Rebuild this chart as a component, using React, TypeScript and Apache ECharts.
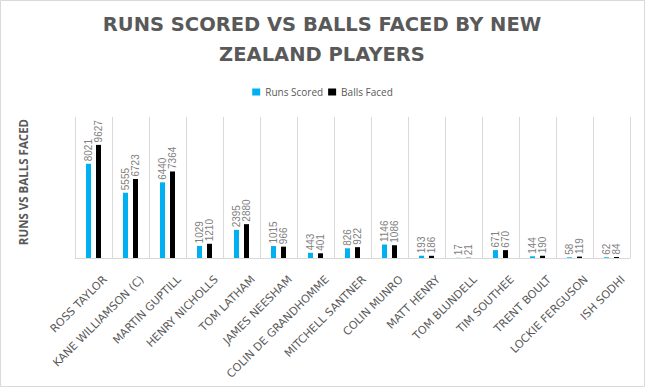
import React, { useEffect, useRef } from "react";
import * as echarts from "echarts";

const players = [
  "ROSS TAYLOR",
  "KANE WILLIAMSON (C)",
  "MARTIN GUPTILL",
  "HENRY NICHOLLS",
  "TOM LATHAM",
  "JAMES NEESHAM",
  "COLIN DE GRANDHOMME",
  "MITCHELL SANTNER",
  "COLIN MUNRO",
  "MATT HENRY",
  "TOM BLUNDELL",
  "TIM SOUTHEE",
  "TRENT BOULT",
  "LOCKIE FERGUSON",
  "ISH SODHI",
];
const runsScored = [8021, 5555, 6440, 1029, 2395, 1015, 443, 826, 1146, 193, 17, 671, 144, 58, 62];
const ballsFaced = [9627, 6723, 7364, 1210, 2880, 966, 401, 922, 1086, 186, 21, 670, 190, 119, 84];

export default function App() {
  const ref = useRef<HTMLDivElement>(null);
  useEffect(() => {
    if (!ref.current) return;
    const chart = echarts.init(ref.current, null, { renderer: "svg" });
    const label = {
      show: true,
      position: "top" as const,
      rotate: 90,
      align: "left" as const,
      verticalAlign: "middle" as const,
      distance: 2.5,
      color: "#7f7f7f",
      fontSize: 10,
      fontFamily: "Liberation Sans",
    };
    chart.setOption({
      animation: false,
      backgroundColor: "#ffffff",
      legend: {
        top: 82,
        left: "center",
        itemWidth: 8,
        itemHeight: 7,
        itemGap: 5,
        icon: "rect",
        textStyle: { fontFamily: "Open Sans", fontSize: 10, color: "#595959" },
        data: ["Runs Scored", "Balls Faced"],
      },
      graphic: [
        {
          type: "rect",
          shape: { x: 0.5, y: 0.5, width: 644, height: 386 },
          style: { fill: "none", stroke: "#d9d9d9", lineWidth: 1 },
          silent: true,
        },
        {
          type: "text",
          x: 322,
          y: 10,
          silent: true,
          style: {
            text: "RUNS SCORED VS BALLS FACED BY NEW\nZEALAND PLAYERS",
            align: "center",
            verticalAlign: "top",
            fontFamily: "DejaVu Sans",
            fontWeight: "bold",
            fontSize: 19.5,
            lineHeight: 29.6,
            fill: "#595959",
          },
        },
      ],
      grid: { left: 75, right: 15, top: 117, bottom: 129 },
      xAxis: {
        type: "category",
        data: players,
        axisTick: { show: false },
        axisLine: { lineStyle: { color: "#d9d9d9" } },
        splitLine: { show: true, lineStyle: { color: "#d9d9d9" } },
        axisLabel: {
          rotate: 45,
          interval: 0,
          color: "#595959",
          fontFamily: "DejaVu Sans",
          fontSize: 11,
          margin: 8,
          align: "right",
          verticalAlign: "top",
          padding: [11, 0, 0, 0],
        },
      },
      yAxis: {
        type: "value",
        min: 0,
        max: 12000,
        name: "RUNS VS BALLS FACED",
        nameLocation: "middle",
        nameRotate: 90,
        nameGap: 46,
        nameTextStyle: {
          fontFamily: "Open Sans",
          fontWeight: "bold",
          fontSize: 11.5,
          color: "#595959",
          padding: [0, 0, 0, 11],
        },
        axisLabel: { show: false },
        axisLine: { show: false },
        axisTick: { show: false },
        splitLine: { show: false },
      },
      series: [
        {
          name: "Runs Scored",
          type: "bar",
          data: runsScored,
          barWidth: 5,
          barGap: "100%",
          itemStyle: { color: "#00b0f0" },
          label,
        },
        {
          name: "Balls Faced",
          type: "bar",
          data: ballsFaced,
          barWidth: 5,
          barGap: "100%",
          itemStyle: { color: "#000000" },
          label,
        },
      ],
    });
    return () => chart.dispose();
  }, []);
  return (
    <div
      ref={ref}
      style={{ position: "absolute", left: 0, top: 0, width: 645, height: 387 }}
    />
  );
}
